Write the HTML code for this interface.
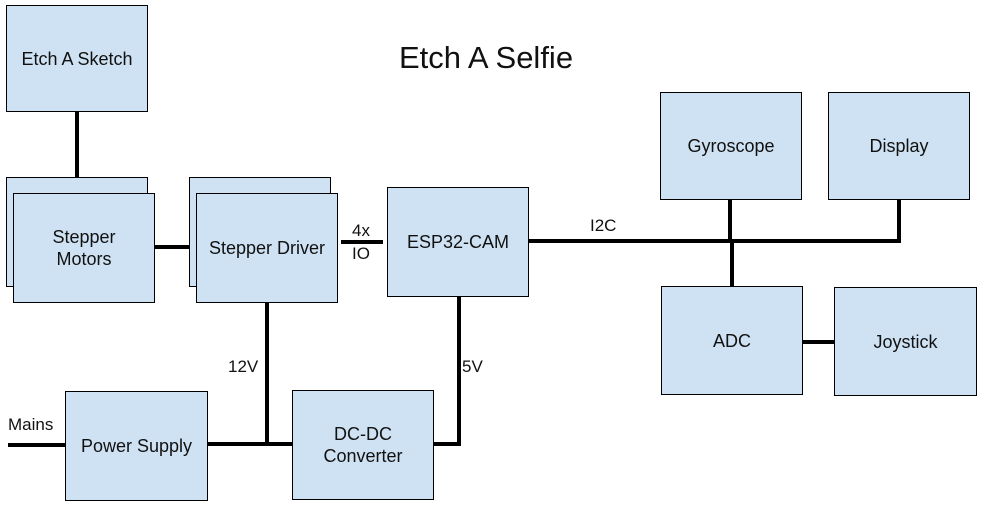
<html><body style="margin:0;width:984px;height:510px;background:#fff;position:relative;font-family:'Liberation Sans',sans-serif;overflow:hidden">
<style>
.b{position:absolute;background:#cfe2f3;border:1px solid #000;box-sizing:border-box;display:flex;align-items:center;justify-content:center;text-align:center;font-size:18px;line-height:22px;color:#111}
.l{position:absolute;background:#000}
.t{position:absolute;font-size:17px;color:#111}
</style>
<div class="t" style="left:399px;top:40px;font-size:31px">Etch A Selfie</div>
<div class="l" style="left:75px;top:112px;width:4px;height:66px"></div>
<div class="l" style="left:154px;top:245px;width:42px;height:4px"></div>
<div class="l" style="left:341px;top:240px;width:42px;height:4px"></div>
<div class="l" style="left:528px;top:239px;width:373px;height:4px"></div>
<div class="l" style="left:897px;top:199px;width:4px;height:44px"></div>
<div class="l" style="left:728px;top:199px;width:4px;height:44px"></div>
<div class="l" style="left:730px;top:241px;width:4px;height:46px"></div>
<div class="l" style="left:802px;top:340px;width:32px;height:4px"></div>
<div class="l" style="left:265px;top:302px;width:4px;height:144px"></div>
<div class="l" style="left:8px;top:443px;width:58px;height:4px"></div>
<div class="l" style="left:207px;top:442px;width:86px;height:4px"></div>
<div class="l" style="left:457px;top:296px;width:4px;height:150px"></div>
<div class="l" style="left:433px;top:442px;width:28px;height:4px"></div>
<div class="b" style="left:6px;top:5px;width:142px;height:107px">Etch A Sketch</div>
<div class="b" style="left:6px;top:177px;width:142px;height:110px"></div>
<div class="b" style="left:13px;top:193px;width:142px;height:110px">Stepper<br>Motors</div>
<div class="b" style="left:189px;top:177px;width:142px;height:110px"></div>
<div class="b" style="left:196px;top:193px;width:142px;height:110px">Stepper Driver</div>
<div class="b" style="left:387px;top:187px;width:142px;height:110px">ESP32-CAM</div>
<div class="b" style="left:660px;top:92px;width:142px;height:108px">Gyroscope</div>
<div class="b" style="left:828px;top:92px;width:142px;height:108px">Display</div>
<div class="b" style="left:661px;top:286px;width:142px;height:109px">ADC</div>
<div class="b" style="left:834px;top:287px;width:143px;height:109px">Joystick</div>
<div class="b" style="left:65px;top:391px;width:143px;height:110px">Power Supply</div>
<div class="b" style="left:292px;top:390px;width:142px;height:110px">DC-DC<br>Converter</div>
<div class="t" style="left:352px;top:221px">4x</div>
<div class="t" style="left:352px;top:244px">IO</div>
<div class="t" style="left:590px;top:216px">I2C</div>
<div class="t" style="left:228px;top:357px">12V</div>
<div class="t" style="left:462px;top:357px">5V</div>
<div class="t" style="left:8px;top:415px">Mains</div>
</body></html>
